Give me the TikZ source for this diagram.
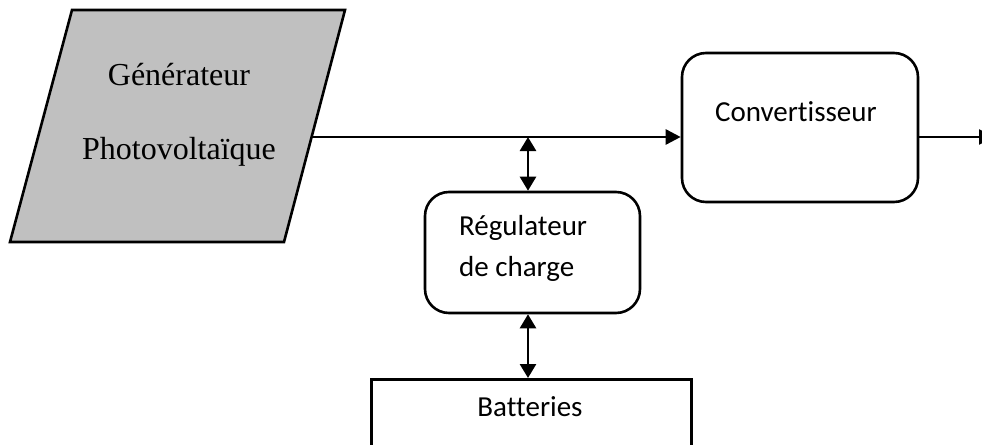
\documentclass[tikz,border=0pt]{standalone}
\usepackage{fontspec}
\setmainfont{Liberation Serif}
\newfontfamily\calibri[Ligatures=NoCommon]{Carlito}
\usetikzlibrary{arrows.meta,calc}
\definecolor{pvgray}{RGB}{192,192,192}
\tikzset{
  blockbox/.style={draw, line width=1.3pt, rounded corners=12pt, inner sep=0pt},
  flow/.style={line width=1.3pt, -{Triangle[length=7.5pt,width=7.5pt]}},
  twoway/.style={line width=1.3pt, {Triangle[length=7pt,width=8pt]}-{Triangle[length=7pt,width=8pt]}},
  cal/.style={font=\calibri\fontsize{14.5}{20.5}\selectfont},
}
\begin{document}
\begin{tikzpicture}[x=0.5pt, y=-0.5pt]
  \useasboundingbox (0,0) rectangle (982,445);
  % generateur
  \draw[line width=1.3pt, fill=pvgray] (72,10) -- (345,10) -- (284,242) -- (10,242) -- cycle;
  \node[align=center, font=\fontsize{16}{37}\selectfont] (gen) at (179,115) {Générateur\\Photovoltaïque};
  \coordinate (genout) at (312.5,137);
  % blocs
  \node[blockbox, minimum width=118pt, minimum height=74.5pt] (conv) at (800,127.5) {};
  \node[cal, anchor=west] (convtxt) at (708,112) {Convertisseur};
  \node[blockbox, minimum width=107.5pt, minimum height=60.5pt] (reg) at (532.5,252.5) {};
  \node[cal, anchor=west, align=left] (regtxt) at (452,248) {Régulateur\\de charge};
  \node[draw, line width=1.3pt, minimum width=160pt, minimum height=50pt, anchor=north west] (bat) at (370,378) {};
  \node[cal] (battxt) at (530,407) {Batteries};
  \coordinate (junc) at (528,137);
  \coordinate (out) at (994,137);
  % liaisons
  \draw[flow] (genout) -- (genout -| conv.west);
  \draw[flow] (genout -| conv.east) -- (out);
  \draw[twoway] (junc) -- (junc |- reg.north);
  \draw[twoway] (junc |- reg.south) -- (junc |- bat.north);
\end{tikzpicture}
\end{document}
